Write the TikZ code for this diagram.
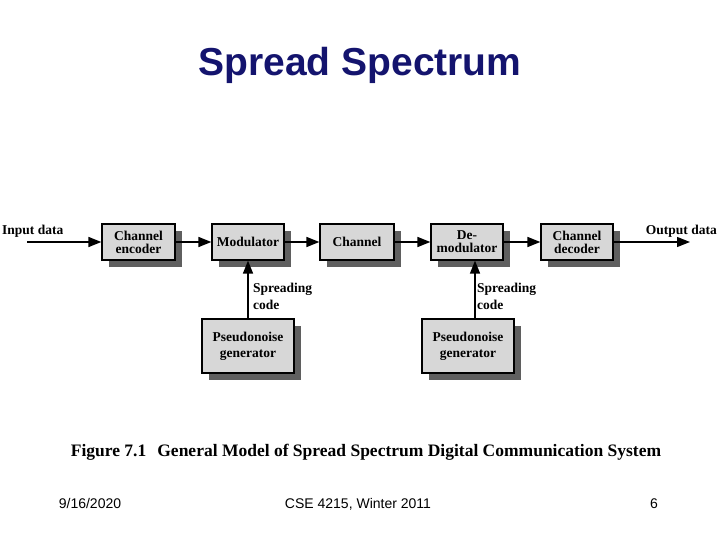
\documentclass[tikz,border=0pt]{standalone}
\usepackage{fontspec}
\setmainfont{Liberation Serif}
\setsansfont{Liberation Sans}
\usetikzlibrary{arrows.meta,shadows}
\definecolor{navy}{RGB}{20,20,110}
\definecolor{boxfill}{RGB}{215,215,215}
\definecolor{shade}{RGB}{95,95,95}
\begin{document}
\begin{tikzpicture}[x=1pt,y=-1pt,
  blk/.style={draw=black,line width=1.2pt,fill=boxfill,font=\bfseries\fontsize{13.5}{14}\selectfont,align=center,inner sep=0pt,
    drop shadow={shadow xshift=7pt,shadow yshift=-7pt,fill=shade,opacity=1}},
  arr/.style={line width=1.4pt,-{Triangle[length=13pt,width=10pt]}},
  lbl/.style={font=\bfseries\fontsize{13.5}{14}\selectfont,align=left,inner sep=0pt}]
\useasboundingbox (0,0) rectangle (720,540);
\node[font=\sffamily\bfseries\fontsize{39}{39}\selectfont,text=navy] (title) at (360,65) {Spread Spectrum};
\node[blk,minimum width=73pt,minimum height=36pt] (enc) at (138.5,242) {Channel\\[-1pt]encoder};
\node[blk,minimum width=72pt,minimum height=36pt] (mod) at (248,242) {Modulator};
\node[blk,minimum width=74pt,minimum height=36pt] (ch) at (357,242) {Channel};
\node[blk,minimum width=72pt,minimum height=36pt] (dem) at (467,242) {De-\\[-1pt]modulator};
\node[blk,minimum width=72pt,minimum height=36pt] (dec) at (577,242) {Channel\\[-1pt]decoder};
\node[blk,minimum width=92pt,minimum height=54pt] (pn1) at (248,346) {Pseudonoise\\[2pt]generator};
\node[blk,minimum width=92pt,minimum height=54pt] (pn2) at (468,346) {Pseudonoise\\[2pt]generator};
\node[lbl,anchor=west] (in) at (2,231) {Input data};
\node[lbl,anchor=east] (out) at (717,231) {Output data};
\coordinate (inS) at (27,242);
\coordinate (outE) at (690,242);
\draw[arr] (inS) -- (enc.west);
\draw[arr] (enc.east) -- (mod.west);
\draw[arr] (mod.east) -- (ch.west);
\draw[arr] (ch.east) -- (dem.west);
\draw[arr] (dem.east) -- (dec.west);
\draw[arr] (dec.east) -- (outE);
\draw[arr] (pn1.north) -- (mod.south);
\draw[arr] ([xshift=7pt]pn2.north) -- ([xshift=8pt]dem.south);
\node[lbl,anchor=west] (sc1) at (253,296) {Spreading\\[3pt]code};
\node[lbl,anchor=west] (sc2) at (477,296) {Spreading\\[3pt]code};
\node[font=\bfseries\fontsize{17.5}{17.5}\selectfont] (cap) at (366,452) {Figure 7.1\hspace{11pt}General Model of Spread Spectrum Digital Communication System};
\node[font=\sffamily\fontsize{14}{14}\selectfont,anchor=base] (f1) at (90,508) {9/16/2020};
\node[font=\sffamily\fontsize{14}{14}\selectfont,anchor=base] (f2) at (358,508) {CSE 4215, Winter 2011};
\node[font=\sffamily\fontsize{14}{14}\selectfont,anchor=base] (f3) at (654,508) {6};
\end{tikzpicture}
\end{document}
